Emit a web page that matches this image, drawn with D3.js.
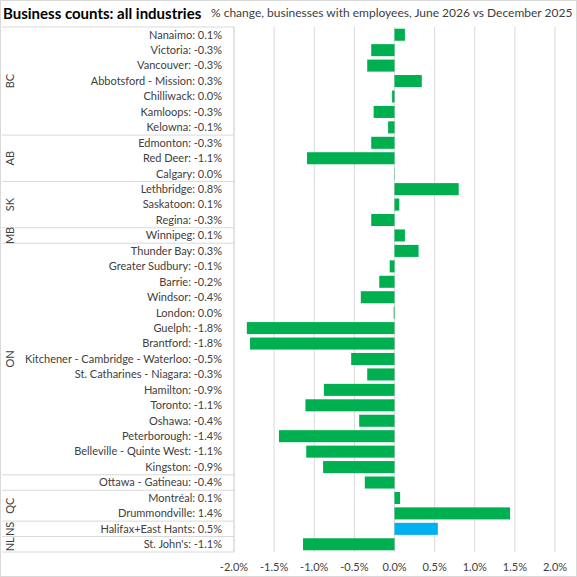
<!DOCTYPE html>
<html lang="en">
<head>
<meta charset="UTF-8">
<title>Business counts</title>
<script src="https://cdn.jsdelivr.net/npm/d3@7"></script>
<style>
  body { margin: 0; background: #fff; }
  svg text { font-family: Lato, "Liberation Sans", sans-serif; fill: #404040; }
  .title { font-weight: bold; fill: #000; }
</style>
</head>
<body>
<div id="chart"></div>
<script>
// cities top to bottom, province group of each, % change
const cities = ["Nanaimo", "Victoria", "Vancouver", "Abbotsford - Mission", "Chilliwack", "Kamloops", "Kelowna",
  "Edmonton", "Red Deer", "Calgary",
  "Lethbridge", "Saskatoon", "Regina",
  "Winnipeg",
  "Thunder Bay", "Greater Sudbury", "Barrie", "Windsor", "London", "Guelph", "Brantford",
  "Kitchener - Cambridge - Waterloo", "St. Catharines - Niagara", "Hamilton", "Toronto", "Oshawa",
  "Peterborough", "Belleville - Quinte West", "Kingston",
  "Ottawa - Gatineau",
  "Montréal", "Drummondville",
  "Halifax+East Hants",
  "St. John's"];
const provinces = ["BC", "BC", "BC", "BC", "BC", "BC", "BC",
  "AB", "AB", "AB",
  "SK", "SK", "SK",
  "MB",
  "ON", "ON", "ON", "ON", "ON", "ON", "ON", "ON", "ON", "ON", "ON", "ON", "ON", "ON", "ON",
  "",
  "QC", "QC",
  "NS",
  "NL"];
const changes = [0.13, -0.29, -0.34, 0.34, -0.03, -0.26, -0.08,
  -0.29, -1.09, 0.004,
  0.8, 0.06, -0.29,
  0.13,
  0.3, -0.06, -0.19, -0.42, -0.01, -1.84, -1.8, -0.54, -0.34, -0.88, -1.11, -0.44, -1.44, -1.1, -0.89,
  -0.37,
  0.07, 1.44,
  0.54,
  -1.14];
const highlighted = ["Halifax+East Hants"];
const xTicks = [-2.0, -1.5, -1.0, -0.5, 0.0, 0.5, 1.0, 1.5, 2.0];

const W = 577, H = 577;
const plotTop = 27, plotBottom = 552, tableLeft = 2, tableRight = 234, plotRight = 555;

const fmt = d3.formatLocale({ decimal: ".", thousands: ",", grouping: [3], currency: ["", ""], minus: "-" });
const f1 = fmt.format(".1f");

const svg = d3.select("#chart").append("svg")
  .attr("width", W).attr("height", H);

svg.append("rect")
  .attr("x", 0.5).attr("y", 0.5).attr("width", W - 1).attr("height", H - 1)
  .attr("fill", "#fff").attr("stroke", "#d9d9d9");

svg.append("text").attr("class", "title")
  .attr("x", 3).attr("y", 19).attr("font-size", 15)
  .text("Business counts: all industries");
svg.append("text")
  .attr("x", 211).attr("y", 17).attr("font-size", 12).attr("fill", "#262626")
  .text("% change, businesses with employees,  June 2026 vs December 2025");

const x = d3.scaleLinear().domain([-2, 2]).range([tableRight, plotRight]);
const y = d3.scaleBand().domain(d3.range(cities.length)).range([plotTop, plotBottom]).paddingInner(0.22).paddingOuter(0.11);
const row = d3.scaleBand().domain(d3.range(cities.length)).range([plotTop, plotBottom]);

// gridlines
svg.append("g").selectAll("line").data(xTicks).join("line")
  .attr("x1", d => x(d)).attr("x2", d => x(d))
  .attr("y1", plotTop).attr("y2", plotBottom)
  .attr("stroke", "#d9d9d9").attr("stroke-width", 1);

// x axis labels
svg.append("g").selectAll("text").data(xTicks).join("text")
  .attr("x", d => x(d)).attr("y", 571)
  .attr("text-anchor", "middle").attr("font-size", 11)
  .text(d => f1(d) + "%");

// bars
svg.append("g").selectAll("rect").data(changes).join("rect")
  .attr("x", d => x(Math.min(0, d)))
  .attr("width", d => Math.abs(x(d) - x(0)))
  .attr("y", (d, i) => y(i))
  .attr("height", y.bandwidth())
  .attr("fill", (d, i) => highlighted.includes(cities[i]) ? "#00b0f0" : "#00b050");

// category table
const table = svg.append("g");
table.append("line")
  .attr("x1", tableRight).attr("x2", tableRight)
  .attr("y1", plotTop).attr("y2", plotBottom)
  .attr("stroke", "#d9d9d9");

// province groups
const groups = [];
provinces.forEach((p, i) => {
  const last = groups[groups.length - 1];
  if (last && last.name === p) last.end = i;
  else groups.push({ name: p, start: i, end: i });
});

table.selectAll("line.sep").data(groups).join("line")
  .attr("class", "sep")
  .attr("x1", tableLeft).attr("x2", tableRight)
  .attr("y1", d => row(d.start)).attr("y2", d => row(d.start))
  .attr("stroke", "#d9d9d9");
table.append("line")
  .attr("x1", tableLeft).attr("x2", tableRight)
  .attr("y1", plotBottom).attr("y2", plotBottom)
  .attr("stroke", "#d9d9d9");

table.selectAll("text.prov").data(groups).join("text")
  .attr("class", "prov")
  .attr("font-size", 11)
  .attr("text-anchor", "middle")
  .attr("transform", d => {
    const cy = (row(d.start) + row(d.end) + row.bandwidth()) / 2;
    return `translate(14,${cy}) rotate(-90)`;
  })
  .text(d => d.name);

table.selectAll("text.city").data(cities).join("text")
  .attr("class", "city")
  .attr("x", 222)
  .attr("y", (d, i) => row(i) + row.bandwidth() / 2)
  .attr("dy", "0.35em")
  .attr("text-anchor", "end")
  .attr("font-size", 11)
  .text((d, i) => d + ": " + f1(changes[i]) + "%");
</script>
</body>
</html>
